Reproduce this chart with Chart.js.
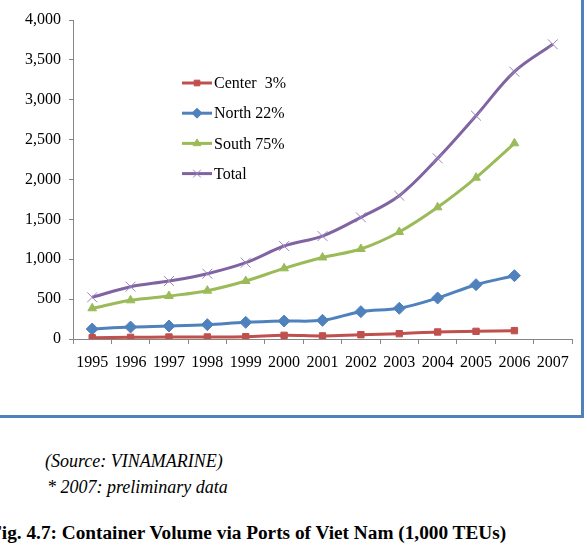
<!DOCTYPE html>
<html>
<head>
<meta charset="utf-8">
<script src="https://cdn.jsdelivr.net/npm/chart.js@4/dist/chart.umd.min.js"></script>
<style>
  html, body { margin: 0; padding: 0; background: #fff; overflow: hidden; }
  body { width: 587px; height: 549px; position: relative; font-family: "Liberation Serif", "DejaVu Serif", serif; }
  #box {
    position: absolute; left: -6px; top: -6px;
    width: 590px; height: 424px;
    border: 3px solid #4F81BD; box-sizing: border-box;
  }
  #wrap { position: absolute; left: 0; top: 0; width: 580px; height: 414px; }
  .note { position: absolute; font-size: 18px; font-style: italic; color: #000; white-space: nowrap; }
  #caption { position: absolute; font-size: 19.3px; font-weight: bold; white-space: nowrap; }
</style>
</head>
<body>
<div id="box"></div>
<div id="wrap"><canvas id="volumeChart" width="580" height="414"></canvas></div>
<div class="note" style="left:45px; top:451px;">(Source: VINAMARINE)</div>
<div class="note" style="left:47px; top:477px;">* 2007: preliminary data</div>
<div id="caption" style="left:-10px; top:522px;">Fig. 4.7: Container Volume via Ports of Viet Nam (1,000 TEUs)</div>

<script>
const years = [
  "1995", "1996", "1997", "1998", "1999", "2000", "2001",
  "2002", "2003", "2004", "2005", "2006", "2007",
];
const centerData = [16, 21, 25, 25, 29, 46, 39, 54, 67, 88, 96, 105, null];
const northData = [125, 150, 163, 180, 209, 225, 234, 343, 385, 514, 681, 794, null];
const southData = [385, 485, 539, 606, 727, 886, 1022, 1129, 1342, 1651, 2023, 2454, null];
const totalData = [523, 656, 727, 819, 957, 1166, 1291, 1526, 1797, 2265, 2800, 3352, 3695];
const seriesNames = ["Center  3%", "North 22%", "South 75%", "Total"];

const axisColor = "#868686";
const fontFamily = "'Liberation Serif', 'Times New Roman', serif";
Chart.defaults.font.family = fontFamily;
Chart.defaults.font.size = 16;

function series(label, data, color, style, radius, extra) {
  return Object.assign({
    label: label,
    data: data,
    borderColor: color,
    backgroundColor: color,
    pointBackgroundColor: color,
    pointBorderColor: color,
    pointStyle: style,
    pointRadius: radius,
    pointBorderWidth: 1,
    borderWidth: 3,
    tension: 0.35,
  }, extra || {});
}

// legend drawn inside the plot, Excel style
const insideLegend = {
  id: "insideLegend",
  afterDraw(chart) {
    const ctx = chart.ctx;
    const area = chart.chartArea;
    const x0 = area.left + 109;
    const x1 = area.left + 139;
    const y0 = area.top + 63;
    const step = 30.2;
    chart.data.datasets.forEach((ds, i) => {
      const y = y0 + i * step;
      ctx.save();
      ctx.strokeStyle = ds.borderColor;
      ctx.lineWidth = 3;
      ctx.beginPath();
      ctx.moveTo(x0, y);
      ctx.lineTo(x1, y);
      ctx.stroke();
      ctx.fillStyle = ds.borderColor;
      ctx.strokeStyle = ds.pointBorderColor;
      ctx.lineWidth = ds.pointBorderWidth;
      Chart.helpers.drawPoint(ctx, {
        pointStyle: ds.pointStyle,
        radius: ds.legendRadius,
        borderWidth: ds.pointBorderWidth,
      }, (x0 + x1) / 2, y);
      ctx.fillStyle = "#000";
      ctx.font = "16px " + fontFamily;
      ctx.textBaseline = "middle";
      ctx.textAlign = "left";
      ctx.fillText(ds.label, x1 + 2, y + 1);
      ctx.restore();
    });
  },
};

new Chart(document.getElementById("volumeChart"), {
  type: "line",
  data: {
    labels: years,
    datasets: [
      series(seriesNames[0], centerData, "#C0504D", "rect", 4.5, { legendRadius: 4 }),
      series(seriesNames[1], northData, "#4F81BD", "rectRot", 6, { legendRadius: 5 }),
      series(seriesNames[2], southData, "#9BBB59", "triangle", 5, { legendRadius: 4.5 }),
      series(seriesNames[3], totalData, "#8064A2", "crossRot", 7, {
        pointBorderColor: "#9A86BD",
        legendRadius: 5.5,
      }),
    ],
  },
  options: {
    responsive: false,
    animation: false,
    layout: { padding: { left: 0, top: 20, right: 8, bottom: 35 } },
    plugins: {
      legend: { display: false },
      tooltip: { enabled: false },
    },
    scales: {
      x: {
        offset: true,
        grid: {
          display: true,
          offset: true,
          drawOnChartArea: false,
          drawTicks: true,
          tickLength: 5,
          color: axisColor,
        },
        border: { color: axisColor, width: 1 },
        ticks: {
          color: "#000",
          padding: 9,
          maxRotation: 0,
          autoSkip: false,
          font: { family: fontFamily, size: 16 },
        },
        afterFit(scale) { scale.height = 40; },
      },
      y: {
        min: 0,
        max: 4000,
        ticks: {
          stepSize: 500,
          color: "#000",
          padding: 8,
          font: { family: fontFamily, size: 16 },
          callback: (v) => v.toLocaleString("en-US"),
        },
        grid: {
          display: true,
          drawOnChartArea: false,
          drawTicks: true,
          tickLength: 4,
          color: axisColor,
        },
        border: { color: axisColor, width: 1 },
        afterFit(scale) { scale.width = 73; },
      },
    },
  },
  plugins: [insideLegend],
});
</script>
</body>
</html>
